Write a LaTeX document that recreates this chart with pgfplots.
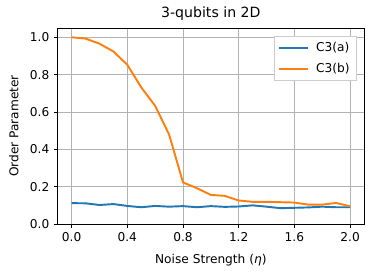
\documentclass[border=0pt]{standalone}
\usepackage{pgfplots}
\pgfplotsset{compat=1.18}
\usepackage{fontspec}
\setmainfont{DejaVu Sans}
\definecolor{tabblue}{HTML}{1F77B4}
\definecolor{taborange}{HTML}{FF7F0E}
\begin{document}
\begin{tikzpicture}
\begin{axis}[
  scale only axis,
  width=239pt, height=153pt,
  xmin=-0.1, xmax=2.1, ymin=0, ymax=1.05,
  xtick={0,0.4,0.8,1.2,1.6,2.0},
  ytick={0,0.2,0.4,0.6,0.8,1.0},
  /pgf/number format/assume math mode=true,
  /pgf/number format/fixed, /pgf/number format/fixed zerofill, /pgf/number format/precision=1,
  ticklabel style={font=\fontsize{9.5}{11}\selectfont},
  tick align=outside, xtick pos=left, ytick pos=left,
  major tick length=3pt,
  tick style={black, line width=0.6pt},
  axis line style={line width=0.6pt},
  grid=major, grid style={color=black!30, line width=0.6pt},
  title={3-qubits in 2D},
  title style={font=\fontsize{11}{13}\selectfont, yshift=-4pt},
  xlabel={Noise Strength (\textit{η})},
  ylabel={Order Parameter},
  label style={font=\fontsize{9.5}{11}\selectfont},
  xlabel style={yshift=-3pt},
  ylabel style={yshift=2pt},
  legend style={at={(0.975,0.96)}, anchor=north east, font=\fontsize{9.5}{11}\selectfont, draw=black!20, row sep=3.3pt, column sep=4pt, inner sep=3pt},
  legend cell align=left,
  legend image code/.code={\draw[#1] (0cm,0cm) -- (0.78cm,0cm);},
]
\addplot[draw=tabblue, line width=1.5pt] coordinates {
(0.0,0.112)(0.1,0.111)(0.2,0.102)(0.3,0.107)(0.4,0.097)(0.5,0.090)(0.6,0.097)(0.7,0.093)(0.8,0.096)(0.9,0.090)(1.0,0.096)(1.1,0.092)(1.2,0.094)(1.3,0.100)(1.4,0.093)(1.5,0.085)(1.6,0.087)(1.7,0.089)(1.8,0.093)(1.9,0.090)(2.0,0.090)};
\addlegendentry{C3(a)}
\addplot[draw=taborange, line width=1.5pt] coordinates {
(0.0,1.0)(0.1,0.993)(0.2,0.966)(0.3,0.924)(0.4,0.853)(0.5,0.732)(0.6,0.633)(0.7,0.480)(0.8,0.223)(0.9,0.192)(1.0,0.156)(1.1,0.151)(1.2,0.126)(1.3,0.119)(1.4,0.119)(1.5,0.117)(1.6,0.115)(1.7,0.104)(1.8,0.104)(1.9,0.113)(2.0,0.095)};
\addlegendentry{C3(b)}
\end{axis}
\pgfresetboundingbox
\path (current axis.south west) ++(-45pt,-40.5pt) coordinate (bl);
\path (current axis.north east) ++(7.8pt,21.8pt) coordinate (tr);
\path[use as bounding box] (bl) rectangle (tr);
\end{tikzpicture}
\end{document}
